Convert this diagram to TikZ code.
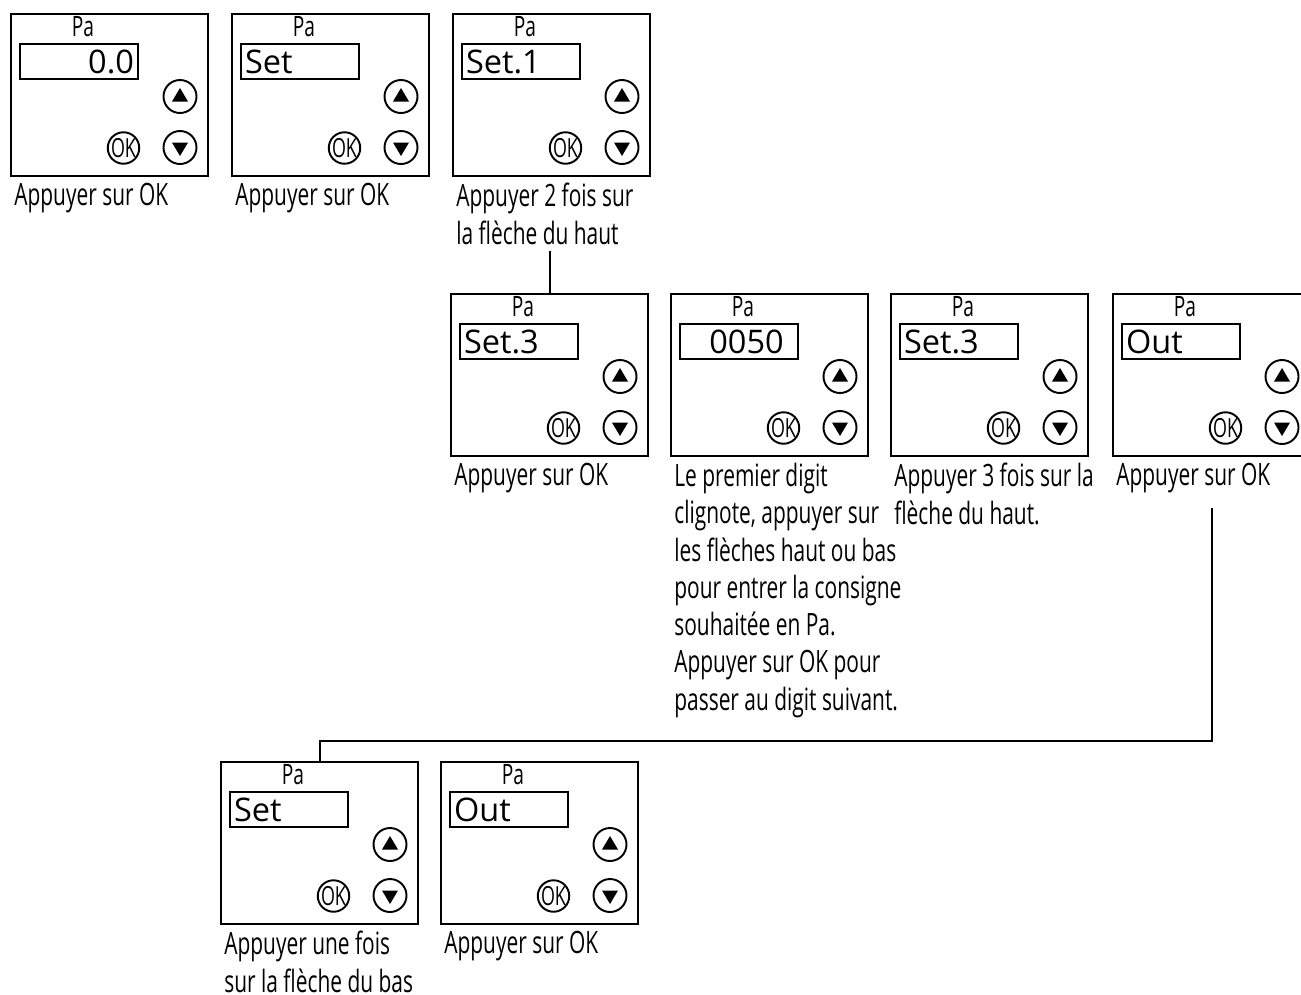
\documentclass[tikz,border=0pt]{standalone}
\usepackage{fontspec}
\setmainfont{Open Sans}
\newfontfamily\narrowfont{Open Sans}[FakeStretch=0.68]
\usetikzlibrary{calc}
\tikzset{
    frame/.style={draw, line width=1.4pt, minimum width=3.94cm, minimum height=3.24cm, inner sep=0pt},
    unit/.style={anchor=base, inner sep=0pt, font=\narrowfont\fontsize{16pt}{18pt}\selectfont},
    screen/.style={draw, line width=1.2pt, minimum width=2.36cm, minimum height=0.7cm, text width=2.2cm,
                   inner xsep=0.08cm, inner ysep=0pt, font=\fontsize{18.5pt}{20pt}\selectfont},
    btn/.style={circle, draw, line width=1.1pt, minimum size=0.66cm, inner sep=0pt},
    okbtn/.style={circle, draw, line width=1.1pt, minimum size=0.6cm, inner sep=0pt,
                  font=\narrowfont\fontsize{15pt}{16pt}\selectfont},
    lbl/.style={anchor=north west, align=left, inner sep=0pt, font=\narrowfont\fontsize{17.5pt}{21.2pt}\selectfont},
    link/.style={line width=1.1pt},
}
% #1 name, #2 top left corner, #3 value, #4 value alignment, #5 caption
\newcommand{\panel}[5]{%
    \node[frame, anchor=north west] (#1) at #2 {};
    \node[unit] (#1u) at ($(#1.north west)+(1.46,-0.47)$) {Pa};
    \node[screen, align=#4] (#1s) at ($(#1.north west)+(1.38,-0.97)$) {#3};
    \node[btn] (#1a) at ($(#1.north west)+(3.4,-1.67)$) {};
    \node[btn] (#1b) at ($(#1.north west)+(3.4,-2.69)$) {};
    \node[okbtn] (#1k) at ($(#1.north west)+(2.27,-2.7)$) {OK};
    \fill ($(#1a)+(0,0.17)$) -- ++(-0.16,-0.27) -- ++(0.32,0) -- cycle;
    \fill ($(#1b)+(0,-0.17)$) -- ++(-0.16,0.27) -- ++(0.32,0) -- cycle;
    \node[lbl] (#1l) at ($(#1.south west)+(0.08,-0.11)$) {#5};
}

\begin{document}
\begin{tikzpicture}
    \useasboundingbox (0,0) rectangle (26.02,-19.88);
    \clip (0,0) rectangle (26.02,-19.88);
    % first row
    \panel{p1}{(0.2,-0.26)}{0.0\hspace*{0.2cm}}{right}{Appuyer sur OK}
    \panel{p2}{(4.62,-0.26)}{Set}{left}{Appuyer sur OK}
    \panel{p3}{(9.04,-0.26)}{Set.1}{left}{Appuyer 2 fois sur\\la flèche du haut}
    % second row
    \panel{p4}{(9.0,-5.86)}{Set.3}{left}{Appuyer sur OK}
    \panel{p5}{(13.4,-5.86)}{\hspace*{0.3cm}0050}{center}{Le premier digit\\clignote, appuyer sur\\les flèches haut ou bas\\pour entrer la consigne\\souhaitée en Pa.\\Appuyer sur OK pour\\passer au digit suivant.}
    \panel{p6}{(17.8,-5.86)}{Set.3}{left}{Appuyer 3 fois sur la\\flèche du haut.}
    \panel{p7}{(22.24,-5.86)}{Out}{left}{Appuyer sur OK}
    % third row
    \panel{p8}{(4.4,-15.22)}{Set}{left}{Appuyer une fois\\sur la flèche du bas}
    \panel{p9}{(8.8,-15.22)}{Out}{left}{Appuyer sur OK}
    % links
    \draw[link] ([yshift=-0.12cm]p4.north |- p3l.south) -- (p4.north);
    \draw[link] ([yshift=-0.3cm]p7.south |- p7l.south) |- ([yshift=0.4cm]p8.north) -- (p8.north);
\end{tikzpicture}
\end{document}
